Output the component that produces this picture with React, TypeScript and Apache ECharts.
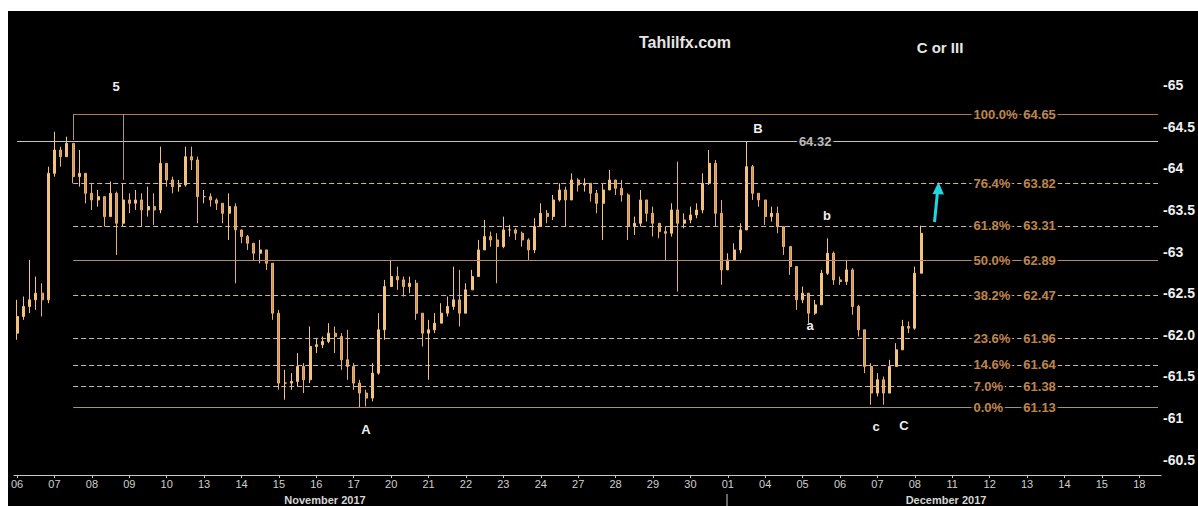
import React, { useEffect, useRef } from 'react';
import * as echarts from 'echarts';

// ---------- data ----------
const DAY_LABELS = ['06','07','08','09','10','13','14','15','16','17','20','21','22','23','24','27','28','29','30','01','04','05','06','07','08','11','12','13','14','15','18'];
const SLOTS_PER_DAY = 6;
const SLOT_COUNT = 184;

const OPENS = [
  62.02,62.22,62.34,62.42,62.50,62.42,63.94,64.22,64.14,64.30,
  63.90,63.94,63.70,63.62,63.66,63.42,63.70,63.34,63.62,63.58,
  63.62,63.50,63.54,63.50,64.06,63.86,63.78,63.80,64.14,64.10,
  63.66,63.66,63.62,63.58,63.46,63.54,63.26,63.18,63.10,62.98,
  63.02,62.86,62.26,61.42,61.42,61.44,61.62,61.46,61.86,61.88,
  61.92,62.02,61.98,61.70,61.62,61.42,61.30,61.24,61.54,62.06,
  62.58,62.70,62.66,62.58,62.62,62.26,62.02,62.06,62.14,62.26,
  62.34,62.42,62.26,62.54,62.70,63.02,63.18,63.14,63.06,63.26,
  63.26,63.22,63.14,63.02,63.30,63.46,63.42,63.62,63.74,63.62,
  63.86,63.80,63.82,63.70,63.58,63.74,63.86,63.76,63.68,63.30,
  63.34,63.62,63.46,63.34,63.24,63.22,63.50,63.34,63.38,63.44,
  63.50,63.82,64.06,63.46,62.78,62.90,63.02,63.26,64.02,63.70,
  63.62,63.42,63.46,63.30,63.06,62.82,62.42,62.50,62.26,62.36,
  62.74,62.98,62.66,62.64,62.78,62.34,62.06,61.62,61.30,61.46,
  61.30,61.62,61.82,62.10,62.08,62.74
];
const CLOSES = [
  62.22,62.34,62.42,62.50,62.42,63.94,64.22,64.14,64.30,63.90,
  63.94,63.70,63.62,63.66,63.42,63.70,63.34,63.62,63.58,63.62,
  63.50,63.54,63.50,64.06,63.86,63.78,63.80,64.14,64.10,63.66,
  63.66,63.62,63.58,63.46,63.54,63.26,63.18,63.10,62.98,63.02,
  62.86,62.26,61.42,61.42,61.44,61.62,61.46,61.86,61.88,61.92,
  62.02,61.98,61.70,61.62,61.42,61.30,61.24,61.54,62.06,62.58,
  62.70,62.66,62.58,62.62,62.26,62.02,62.06,62.14,62.26,62.34,
  62.42,62.26,62.54,62.70,63.02,63.18,63.14,63.06,63.26,63.26,
  63.22,63.14,63.02,63.30,63.46,63.42,63.62,63.74,63.62,63.86,
  63.80,63.82,63.70,63.58,63.74,63.86,63.76,63.68,63.30,63.34,
  63.62,63.46,63.34,63.24,63.22,63.50,63.34,63.38,63.44,63.50,
  63.82,64.06,63.46,62.78,62.90,63.02,63.26,64.02,63.70,63.62,
  63.42,63.46,63.30,63.06,62.82,62.42,62.50,62.26,62.36,62.74,
  62.98,62.66,62.64,62.78,62.34,62.06,61.62,61.30,61.46,61.30,
  61.62,61.82,62.10,62.08,62.74,63.22
];
const HIGHS = [
  62.42,62.46,62.90,62.70,62.62,64.02,64.44,64.26,64.38,64.30,
  64.22,63.90,63.82,63.74,63.66,63.84,63.72,63.82,63.70,63.74,
  63.70,63.78,63.70,64.26,64.06,63.90,63.86,64.26,64.26,64.14,
  63.74,63.70,63.64,63.58,63.70,63.58,63.26,63.20,63.10,63.14,
  63.02,62.86,62.30,61.58,61.54,61.78,61.66,62.10,61.96,61.98,
  62.14,62.10,62.02,62.06,61.66,61.46,61.34,61.66,62.26,62.66,
  62.90,62.82,62.70,62.70,62.66,62.26,62.18,62.26,62.38,62.46,
  62.82,62.78,62.62,62.78,63.14,63.38,63.24,63.22,63.42,63.32,
  63.28,63.24,63.16,63.40,63.58,63.50,63.68,63.82,63.78,63.94,
  63.88,63.88,63.82,63.74,63.82,63.98,63.86,63.86,63.70,63.42,
  63.74,63.62,63.54,63.34,63.30,63.58,64.08,63.46,63.54,63.58,
  63.94,64.22,64.10,63.62,62.98,63.10,63.34,64.32,64.04,63.70,
  63.62,63.54,63.54,63.30,63.06,62.82,62.58,62.50,62.42,62.78,
  63.16,63.00,62.70,62.90,62.80,62.36,62.06,61.66,61.54,61.50,
  61.70,61.90,62.18,62.16,62.82,63.31
];
const LOWS = [
  61.94,62.18,62.26,62.30,62.22,62.38,63.90,64.02,64.14,63.82,
  63.78,63.58,63.50,63.54,63.30,63.42,62.96,63.30,63.46,63.50,
  63.30,63.42,63.32,63.46,63.78,63.70,63.72,63.78,63.98,63.34,
  63.58,63.54,63.50,63.34,63.14,62.62,63.10,63.02,62.90,62.86,
  62.78,62.18,61.34,61.22,61.34,61.38,61.30,61.42,61.78,61.84,
  61.90,61.78,61.58,61.46,61.34,61.13,61.14,61.20,61.52,61.94,
  62.58,62.54,62.46,62.50,62.18,61.86,61.46,62.02,62.14,62.22,
  62.30,62.10,62.26,62.54,62.70,63.02,63.06,62.62,63.04,63.18,
  63.14,63.06,62.90,62.98,63.30,63.34,63.38,63.60,63.30,63.62,
  63.72,63.72,63.60,63.46,63.14,63.74,63.68,63.60,63.14,63.20,
  63.30,63.36,63.18,63.16,62.90,63.18,62.52,63.28,63.34,63.40,
  63.46,63.80,63.30,62.60,62.78,62.90,62.98,63.26,63.62,63.54,
  63.32,63.36,63.22,62.96,62.72,62.30,62.38,62.14,62.24,62.36,
  62.72,62.60,62.60,62.60,62.24,61.98,61.54,61.16,61.26,61.16,
  61.30,61.62,61.82,62.02,62.06,62.74
];

const FIB_PCTS = ['100.0%','76.4%','61.8%','50.0%','38.2%','23.6%','14.6%','7.0%','0.0%'];
const FIB_LEVELS = [64.65, 63.82, 63.31, 62.89, 62.47, 61.96, 61.64, 61.38, 61.13];
const B_LEVEL = 64.32;
const ANCHOR_SLOTS = [9, 17];
const ANCHOR_ENDS = [64.34, 63.86];

const Y_TICKS = [60.5, 61, 61.5, 62, 62.5, 63, 63.5, 64, 64.5, 65];
const Y_TICK_LABELS = ['60.5','61','61.5','62.0','62.5','63','63.5','64','64.5','65'];
const MONTH_LABELS = ['November 2017', 'December 2017'];
const WAVE_LABELS = ['5', 'B', 'b', 'a', 'A', 'c', 'C'];
const TITLE = 'Tahlilfx.com';
const SUBTITLE = 'C or III';

// ---------- build ----------
const FONT = '"Liberation Sans", Arial, sans-serif';

const categories: string[] = [];
for (let i = 0; i < SLOT_COUNT; i++) {
  const d = Math.floor(i / SLOTS_PER_DAY);
  categories.push(`${DAY_LABELS[d] ?? ''}#${i}`);
}

const candles = CLOSES.map((c, i) => [OPENS[i], c, LOWS[i], HIGHS[i]]);

const FIB_START = 9;
const FIB_END = SLOT_COUNT - 1;
const SOLID = new Set([0, 3, 8]);
const SOLID_COLORS: Record<number, string> = { 0: '#b0785a', 3: '#b08a7a', 8: '#a49474' };

const markLines: any[] = FIB_LEVELS.map((lv, i) => [
  {
    coord: [FIB_START, lv],
    lineStyle: SOLID.has(i)
      ? { color: SOLID_COLORS[i], width: 1.2, type: 'solid' }
      : { color: '#cdb6a8', width: 1, type: [5, 3] },
  },
  { coord: [FIB_END, lv] },
]);
markLines.push([
  { coord: [0, B_LEVEL], lineStyle: { color: '#c4c4c4', width: 1.2, type: 'solid' } },
  { coord: [FIB_END, B_LEVEL] },
]);
ANCHOR_SLOTS.forEach((s, i) => {
  markLines.push([
    { coord: [s, FIB_LEVELS[0]], lineStyle: { color: '#a89284', width: 1, type: 'solid' } },
    { coord: [s, ANCHOR_ENDS[i]] },
  ]);
});

const labelPoints: any[] = [];
FIB_LEVELS.forEach((lv, i) => {
  labelPoints.push({ value: [153, lv], name: FIB_PCTS[i] });
  labelPoints.push({ value: [161, lv], name: lv.toFixed(2) });
});
labelPoints.push({ value: [125, B_LEVEL], name: B_LEVEL.toFixed(2), label: { color: '#ececec' } });

const WAVE_POS: [number, number][] = [[108, 75], [750, 117], [819, 204], [802, 314], [358, 418], [868, 415], [896, 414]];

const graphics: any[] = [
  { type: 'text', x: 677, y: 31, style: { text: TITLE, fill: '#e6e6e6', font: `bold 16px ${FONT}`, align: 'center', verticalAlign: 'middle' } },
  { type: 'text', x: 932, y: 36, style: { text: SUBTITLE, fill: '#e6e6e6', font: `bold 15px ${FONT}`, align: 'center', verticalAlign: 'middle' } },
  ...WAVE_LABELS.map((t, i) => ({
    type: 'text', x: WAVE_POS[i][0], y: WAVE_POS[i][1],
    style: { text: t, fill: '#eeeeee', font: `bold 13px ${FONT}`, align: 'center', verticalAlign: 'middle' },
  })),
  { type: 'text', x: 317, y: 494, style: { text: MONTH_LABELS[0], fill: '#d6d6d6', font: `bold 11px ${FONT}`, align: 'center', verticalAlign: 'bottom' } },
  { type: 'text', x: 938, y: 494, style: { text: MONTH_LABELS[1], fill: '#d6d6d6', font: `bold 11px ${FONT}`, align: 'center', verticalAlign: 'bottom' } },
  { type: 'line', shape: { x1: 719, y1: 483, x2: 719, y2: 495 }, style: { stroke: '#cccccc', lineWidth: 1 } },
  { type: 'line', shape: { x1: 926.5, y1: 211, x2: 929.5, y2: 181 }, style: { stroke: '#1fd6e2', lineWidth: 3 } },
  { type: 'polygon', shape: { points: [[930.5, 171], [924.5, 183], [936, 183.5]] }, style: { fill: '#1fd6e2' } },
];

const option: any = {
  animation: false,
  backgroundColor: '#000000',
  grid: { left: 2, right: 28, top: 0, bottom: 31, containLabel: false },
  xAxis: {
    type: 'category',
    data: categories,
    boundaryGap: true,
    axisLine: { show: true, lineStyle: { color: '#c8c8c8', width: 1 } },
    axisTick: { show: true, alignWithLabel: true, interval: (i: number) => i % SLOTS_PER_DAY === 0, length: 3, lineStyle: { color: '#c8c8c8' } },
    axisLabel: {
      interval: (i: number) => i % SLOTS_PER_DAY === 0,
      formatter: (v: string) => v.split('#')[0],
      color: '#cfcfcf',
      fontSize: 11,
      fontFamily: FONT,
      margin: 3,
    },
    splitLine: { show: false },
  },
  yAxis: {
    type: 'value',
    position: 'right',
    min: 60.316,
    max: 65.89,
    splitNumber: 11,
    minInterval: 0.5,
    maxInterval: 0.5,
    axisLine: { show: false },
    axisTick: { show: false },
    splitLine: { show: false },
    axisLabel: {
      showMinLabel: false,
      showMaxLabel: false,
      margin: 2,
      color: '#efefef',
      fontSize: 14,
      fontWeight: 'bold',
      fontFamily: FONT,
      formatter: (v: number) => {
        const k = Y_TICKS.findIndex((t) => Math.abs(t - v) < 1e-6);
        return k >= 0 ? `-${Y_TICK_LABELS[k]}` : '';
      },
    },
  },
  series: [
    {
      type: 'candlestick',
      data: candles,
      barWidth: 2.5,
      itemStyle: {
        color: '#f3c27f',
        color0: '#d29459',
        borderColor: '#f3c27f',
        borderColor0: '#e8b06f',
        borderWidth: 1,
      },
      markLine: {
        symbol: ['none', 'none'],
        silent: true,
        label: { show: false },
        emphasis: { disabled: true },
        data: markLines,
      },
      z: 2,
    },
    {
      type: 'scatter',
      data: labelPoints,
      symbolSize: 1,
      silent: true,
      itemStyle: { color: 'rgba(0,0,0,0)' },
      z: 10,
      label: {
        show: true,
        position: 'right',
        distance: 0,
        formatter: '{b}',
        color: '#eeaa62',
        fontSize: 13,
        fontWeight: 'bold',
        fontFamily: FONT,
        backgroundColor: '#000000',
        padding: [1, 2, 0, 2],
      },
    },
  ],
  graphic: graphics,
};

export default function App() {
  const ref = useRef<HTMLDivElement>(null);
  useEffect(() => {
    if (!ref.current) return;
    const chart = echarts.init(ref.current, undefined, { renderer: 'svg' });
    chart.setOption(option);
    return () => chart.dispose();
  }, []);
  return (
    <div
      ref={ref}
      style={{ position: 'absolute', left: 8, top: 11, width: 1190, height: 495, background: '#000' }}
    />
  );
}
